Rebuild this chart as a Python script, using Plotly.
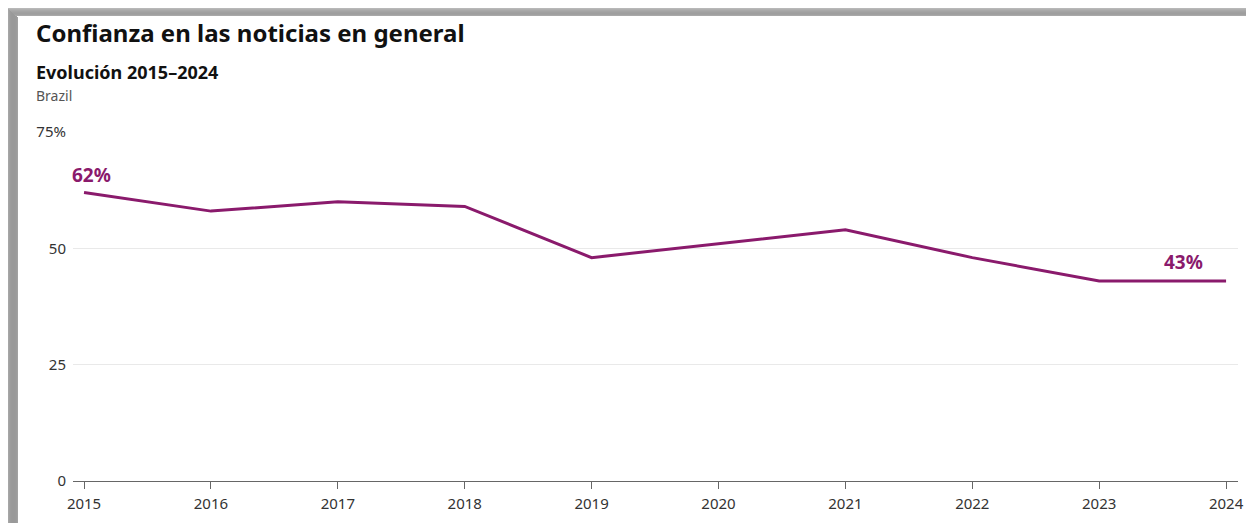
import plotly.graph_objects as go

# ---- data ----
years = [2015, 2016, 2017, 2018, 2019, 2020, 2021, 2022, 2023, 2024]
trust = [62, 58, 60, 59, 48, 51, 54, 48, 43, 43]
y_tickvals = [0, 25, 50, 75]
y_ticktext = ["0", "25", "50", "75%"]
title = "Confianza en las noticias en general"
subtitle = "Evolución 2015–2024"
country = "Brazil"

# page body has an 8px margin; figure fills the rest of the window
OFF = 8
WIN_W, WIN_H = 1254, 523
W, H = WIN_W - OFF, WIN_H - OFF
PLOT_X0, PLOT_X1, PLOT_Y0, PLOT_Y1 = 73, 1238, 132, 481   # window pixels
L, R = PLOT_X0 - OFF, (OFF + W) - PLOT_X1
T, B = PLOT_Y0 - OFF, (OFF + H) - PLOT_Y1
PW, PH = W - L - R, H - T - B
LINE_COLOR = "#8A1A6C"
FONT = "Noto Sans"


def px(x):
    """window pixel x -> paper coordinate"""
    return (x - OFF - L) / PW


def py(y):
    """window pixel y -> paper coordinate"""
    return (H - B - (y - OFF)) / PH


fig = go.Figure()
fig.add_trace(go.Scatter(
    x=years, y=trust, mode="lines",
    line=dict(color=LINE_COLOR, width=3),
    hoverinfo="skip", showlegend=False,
))

shapes = []
# card shadow (left and top bands), stepped gradient
left_greys = ["#a6a6a6", "#a0a0a0", "#9c9c9c", "#9a9a9a",
              "#999999", "#999999", "#999999", "#9a9a9a", "#9c9c9c", "#a2a2a2"]
for i, c in enumerate(left_greys):
    xx = OFF + i
    shapes.append(dict(type="rect", xref="paper", yref="paper",
                       x0=px(xx), x1=px(xx + 1), y0=py(WIN_H), y1=py(xx),
                       fillcolor=c, line=dict(width=0), layer="below"))
top_greys = ["#b8b8b8", "#b0b0b0", "#a9a9a9", "#a4a4a4",
             "#a0a0a0", "#9e9e9e", "#a0a0a0", "#a8a8a8"]
for j, c in enumerate(top_greys):
    yy = OFF + j
    shapes.append(dict(type="rect", xref="paper", yref="paper",
                       x0=px(yy), x1=px(WIN_W), y0=py(yy + 1), y1=py(yy),
                       fillcolor=c, line=dict(width=0), layer="below"))
fig.update_layout(shapes=shapes)

annotations = [
    dict(text=f"<b>{title}</b>", x=px(34), y=py(33), xref="paper", yref="paper",
         xanchor="left", yanchor="middle", showarrow=False,
         font=dict(family=FONT, size=24, color="#111111")),
    dict(text=f"<b>{subtitle}</b>", x=px(34), y=py(72), xref="paper", yref="paper",
         xanchor="left", yanchor="middle", showarrow=False,
         font=dict(family=FONT, size=18, color="#111111")),
    dict(text=country, x=px(34), y=py(95), xref="paper", yref="paper",
         xanchor="left", yanchor="middle", showarrow=False,
         font=dict(family=FONT, size=14, color="#555555")),
    dict(text=f"<b>{trust[0]}%</b>", x=years[0], y=trust[0], xref="x", yref="y",
         xanchor="center", yanchor="middle", showarrow=False, xshift=7, yshift=17,
         font=dict(family=FONT, size=19, color=LINE_COLOR)),
    dict(text=f"<b>{trust[-1]}%</b>", x=years[-1], y=trust[-1], xref="x", yref="y",
         xanchor="center", yanchor="middle", showarrow=False, xshift=-43, yshift=19,
         font=dict(family=FONT, size=19, color=LINE_COLOR)),
]

fig.update_layout(
    width=W, height=H,
    margin=dict(l=L, r=R, t=T, b=B, autoexpand=False),
    paper_bgcolor="white", plot_bgcolor="white",
    annotations=annotations,
    font=dict(family=FONT, size=15, color="#333333"),
    xaxis=dict(
        range=[2014.913, 2024.094], tickvals=years, ticktext=[str(y) for y in years],
        showgrid=False, zeroline=False, showline=True, linecolor="#666666", linewidth=1,
        ticks="outside", ticklen=7, tickcolor="#666666", ticklabelstandoff=2,
        automargin=False,
        tickfont=dict(family=FONT, size=15, color="#333333"), fixedrange=True,
    ),
    yaxis=dict(
        range=[0, 75], tickvals=y_tickvals, ticktext=y_ticktext,
        showgrid=True, gridcolor="#e9e9e9", gridwidth=1, zeroline=False, showline=False,
        ticks="", ticklabelstandoff=6, automargin=False,
        tickfont=dict(family=FONT, size=15, color="#333333"), fixedrange=True,
    ),
)

fig.write_html("out.html", config={"displayModeBar": False})
